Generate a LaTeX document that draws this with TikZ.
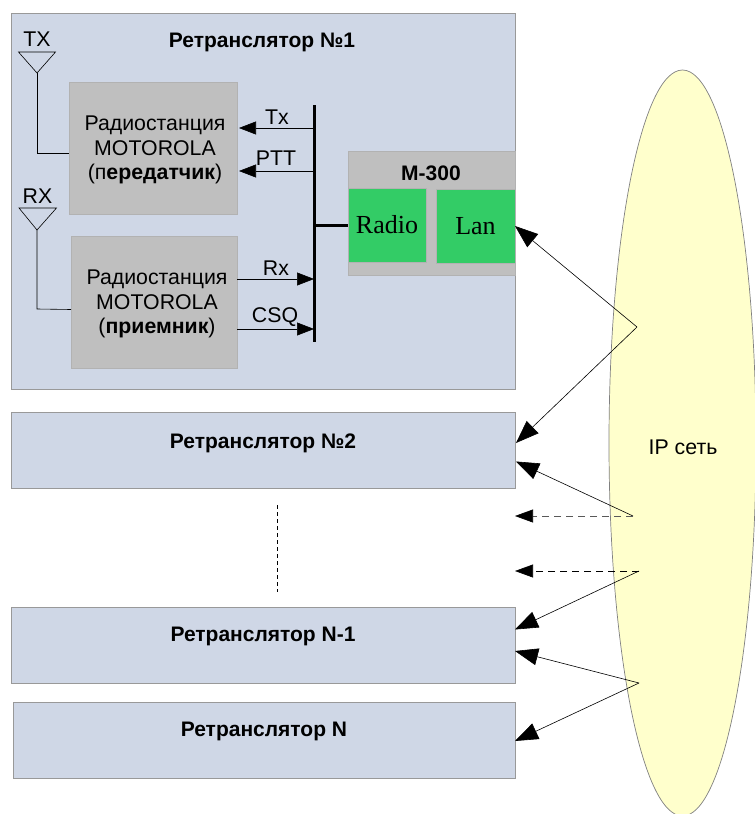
\documentclass[tikz,border=0pt]{standalone}
\usepackage{fontspec}
\setmainfont{Liberation Sans}
\newfontfamily\radiofont{Liberation Serif}
\usetikzlibrary{arrows.meta,shapes.geometric}
\definecolor{repfill}{HTML}{CFD7E6}
\definecolor{greyfill}{HTML}{BFBFBF}
\definecolor{greenfill}{HTML}{33CC66}
\definecolor{netfill}{HTML}{FFFFCC}

\begin{document}
\begin{tikzpicture}[x=1pt,y=-1pt,
  every node/.style={inner sep=0pt,outer sep=0pt,font=\fontsize{21.3}{24.3}\selectfont},
  repbox/.style={draw=black!40,line width=0.8pt,fill=repfill},
  greybox/.style={draw=black!30,line width=0.8pt,fill=greyfill},
  greenbox/.style={draw=black!30,line width=0.8pt,fill=greenfill,font=\radiofont\fontsize{26}{30}\selectfont},
  title/.style={font=\bfseries\fontsize{21}{24}\selectfont},
  wire/.style={black,line width=0.6pt},
  sig/.style={wire,-{Triangle[length=17pt,width=13pt]}},
  link/.style={wire,-{Triangle[length=23pt,width=17pt]}},
  dashlink/.style={wire,dash pattern=on 7pt off 5pt,-{Triangle[length=18pt,width=13pt,color=black]}}]
  \useasboundingbox (0,0) rectangle (755,814);
  \node [ellipse,draw=black!50,line width=0.7pt,fill=netfill,minimum width=147pt,minimum height=746pt] (net) at (682.5,443) {};
  \node (netlabel) at (683,447) {IP сеть};

  \node [repbox,minimum width=504pt,minimum height=376pt] (rep1) at (263,201) {};
  \node [title] (rep1label) at (262,42) {Ретранслятор №1};
  \node [repbox,minimum width=504pt,minimum height=76pt] (rep2) at (263,450.5) {};
  \node [title] (rep2label) at (263,443) {Ретранслятор №2};
  \node [repbox,minimum width=504pt,minimum height=76pt] (repn1) at (263,645) {};
  \node [title] (repn1label) at (263,636) {Ретранслятор N-1};
  \node [repbox,minimum width=502pt,minimum height=76pt] (repn) at (264,740) {};
  \node [title] (repnlabel) at (264,731) {Ретранслятор N};

  \node [greybox,minimum width=168pt,minimum height=132pt] (txr) at (153,148) {};
  \node [align=center] (txrlabel) at (155,150) {Радиостанция\\MOTOROLA\\(п\textbf{ередатчик})};
  \node [greybox,minimum width=166pt,minimum height=132pt] (rxr) at (154,302) {};
  \node [align=center] (rxrlabel) at (157,304) {Радиостанция\\MOTOROLA\\(\textbf{приемник})};

  \node [greybox,minimum width=167pt,minimum height=124pt] (m300) at (431.5,213) {};
  \node [title] (m300label) at (431,173) {M-300};
  \node [greenbox,minimum width=78pt,minimum height=74pt] (radio) at (387,225) {\raisebox{-2pt}{Radio}};
  \node [greenbox,minimum width=79pt,minimum height=74pt] (lan) at (475.5,226) {\raisebox{-2pt}{Lan}};

  \coordinate (bustop) at (314,105);
  \coordinate (busbot) at (314,342);
  \draw [black,line width=3pt] (bustop) -- (busbot);
  \draw [black,line width=3pt] (bustop |- radio) -- (radio.west);

  \coordinate (txbus) at (314,128);
  \coordinate (pttbus) at (314,171);
  \coordinate (rxbus) at (314,279);
  \coordinate (csqbus) at (314,329);
  \draw [sig,shorten >=2pt] (txbus) -- (txbus -| txr.east);
  \draw [sig,shorten >=2pt] (pttbus) -- (pttbus -| txr.east);
  \draw [sig] (rxbus -| rxr.east) -- (rxbus);
  \draw [sig] (csqbus -| rxr.east) -- (csqbus);
  \node (txlabel) at (277,117) {Tx};
  \node (pttlabel) at (276,158) {PTT};
  \node (rxlabel) at (276,268) {Rx};
  \node (csqlabel) at (275,317) {CSQ};

  \coordinate (txant) at (37,73);
  \coordinate (rxant) at (37,230);
  \draw [wire] (18.5,52) -- (55.5,52) -- (txant) -- cycle;
  \draw [wire] (19,208) -- (56.5,208) -- (rxant) -- cycle;
  \draw [wire] (txant) -- (37,153) -- (txr.west |- 0,153);
  \draw [wire] (rxant) -- (37,309) -- (rxr.west |- 0,309.5);
  \node (txantlabel) at (37,39) {TX};
  \node (rxantlabel) at (37.5,196) {RX};

  \draw [wire,line width=0.4pt,dash pattern=on 4pt off 3pt] (277,505) -- (277,592);

  \coordinate (hub1) at (637,327);
  \coordinate (hub2) at (633,516);
  \coordinate (hub3) at (639,571);
  \coordinate (hub4) at (639,683);
  \coordinate (end1) at (516,443);
  \coordinate (end2) at (516,461.5);
  \coordinate (end3) at (515,516);
  \coordinate (end4) at (515,571);
  \coordinate (end5) at (515,629.5);
  \coordinate (end6) at (515,651);
  \coordinate (end7) at (515,741);
  \draw [link] (hub1) -- (lan.east);
  \draw [link] (hub1) -- (end1);
  \draw [link] (hub2) -- (end2);
  \draw [dashlink,draw=black!65] (hub2) -- (end3);
  \draw [dashlink] (hub3) -- (end4);
  \draw [link] (hub3) -- (end5);
  \draw [link] (hub4) -- (end6);
  \draw [link] (hub4) -- (end7);
\end{tikzpicture}
\end{document}
